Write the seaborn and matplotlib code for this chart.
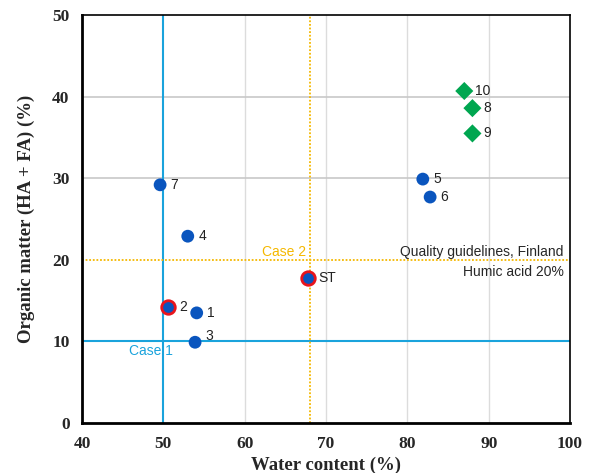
import matplotlib.pyplot as plt
import pandas as pd
import seaborn as sns

# data
labels = ["1", "2", "3", "4", "5", "6", "7", "ST", "10", "8", "9"]
water = [54.1, 50.6, 53.9, 53.0, 81.9, 82.8, 49.6, 67.8, 87.0, 88.0, 88.0]
organic = [13.5, 14.2, 9.9, 22.9, 29.9, 27.7, 29.2, 17.8, 40.7, 38.6, 35.5]
groups = ["soil"] * 8 + ["peat"] * 3
highlighted = ["2", "ST"]

df = pd.DataFrame({"water": water, "organic": organic, "label": labels, "group": groups})

sns.set_style("white")

fig = plt.figure(figsize=(5.91, 4.73), dpi=100)
ax = fig.add_axes([0.1388, 0.1057, 0.8257, 0.8623])

# grid
for gx in [60, 70, 80, 90]:
    ax.axvline(gx, color="#DCDCDC", lw=1, zorder=0)
for gy in [30, 40]:
    ax.axhline(gy, color="#C8C8C8", lw=1.2, zorder=0)

# case lines
ax.axvline(50, color="#1AA3DC", lw=1.5, zorder=1)
ax.axhline(10, color="#1AA3DC", lw=1.5, zorder=1)
ax.axvline(68, color="#F5B800", lw=1.3, ls=(0, (1, 1)), zorder=1)
ax.axhline(20, color="#F5B800", lw=1.3, ls=(0, (1, 1)), zorder=1)

sns.scatterplot(
    data=df,
    x="water",
    y="organic",
    hue="group",
    style="group",
    markers={"soil": "o", "peat": "D"},
    palette={"soil": "#0A55BE", "peat": "#00A650"},
    s=85,
    linewidth=0,
    legend=False,
    zorder=3,
    ax=ax,
)
hl = df[df["label"].isin(highlighted)]
sns.scatterplot(
    data=hl,
    x="water",
    y="organic",
    color="#0A55BE",
    edgecolor="#E8141C",
    linewidth=2,
    s=95,
    legend=False,
    zorder=4,
    ax=ax,
)

for _, r in df.iterrows():
    dy = 0.8 if r["label"] == "3" else 0
    ax.text(r["water"] + 1.3, r["organic"] + dy, r["label"], fontsize=10,
            family="Liberation Sans", va="center", ha="left", color="#222222")

ax.text(51.2, 8.8, "Case 1", color="#1AA3DC", fontsize=10, family="Liberation Sans",
        ha="right", va="center")
ax.text(67.5, 21.0, "Case 2", color="#F5B800", fontsize=10, family="Liberation Sans",
        ha="right", va="center")
ax.text(99.2, 21.0, "Quality guidelines, Finland", fontsize=10,
        family="Liberation Sans", ha="right", va="center")
ax.text(99.2, 18.5, "Humic acid 20%", fontsize=10, family="Liberation Sans",
        ha="right", va="center")

ax.set_xlim(40, 100)
ax.set_ylim(0, 50)
ax.set_xticks(range(40, 101, 10))
ax.set_yticks(range(0, 51, 10))
ax.tick_params(length=0, pad=9)
for t in ax.get_xticklabels() + ax.get_yticklabels():
    t.set_family("Liberation Serif")
    t.set_fontweight("bold")
    t.set_fontsize(12.5)

ax.set_xlabel("Water content (%)", family="Liberation Serif", fontweight="bold",
              fontsize=13.5, labelpad=4)
ax.set_ylabel("Organic matter (HA + FA) (%)", family="Liberation Serif",
              fontweight="bold", fontsize=13.5, labelpad=12)

for side, sp in ax.spines.items():
    sp.set_visible(True)
    sp.set_color("black")
    sp.set_linewidth(2 if side in ("left", "bottom") else 1.2)

fig.savefig("out.png", dpi=100, facecolor="white")
